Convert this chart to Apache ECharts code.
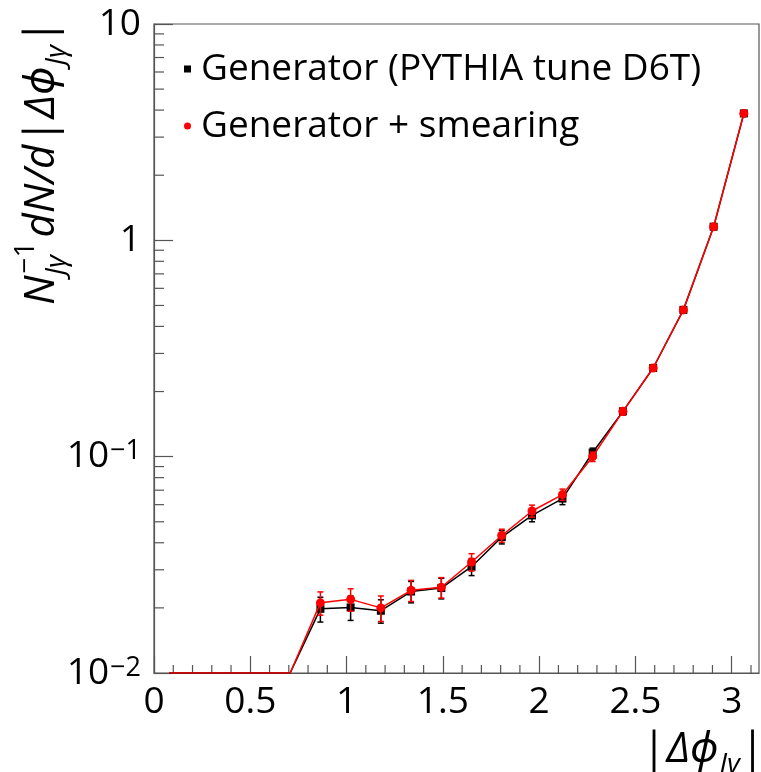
<!DOCTYPE html>
<html><head><meta charset="utf-8">
<script src="https://cdn.jsdelivr.net/npm/echarts@6/dist/echarts.min.js"></script>
<style>html,body{margin:0;padding:0;background:#fff}#c{width:761px;height:772px}</style>
</head><body><div id="c"></div>
<script>
// ---- data ----
const xCenters = [0.079, 0.236, 0.393, 0.550, 0.707, 0.864, 1.021, 1.178, 1.335, 1.492,
                  1.649, 1.806, 1.963, 2.121, 2.278, 2.435, 2.592, 2.749, 2.906, 3.063];
const genY     = [0, 0, 0, 0, 0, 0.0198, 0.0201, 0.0194, 0.0238, 0.0247,
                  0.0310, 0.0425, 0.0535, 0.0640, 0.1045, 0.162, 0.257, 0.477, 1.156, 3.86];
const genErr   = [0, 0, 0, 0, 0, 0.0026, 0.0026, 0.0024, 0.0027, 0.0027,
                  0.0028, 0.0030, 0.0035, 0.0040, 0.0050, 0.006, 0.008, 0.011, 0.017, 0.03];
const smearY   = [0, 0, 0, 0, 0, 0.0211, 0.0219, 0.0200, 0.0241, 0.0249,
                  0.0326, 0.0432, 0.0561, 0.0668, 0.1000, 0.162, 0.257, 0.477, 1.156, 3.86];
const smearErr = [0, 0, 0, 0, 0, 0.0026, 0.0026, 0.0027, 0.0027, 0.0027,
                  0.0030, 0.0030, 0.0036, 0.0040, 0.0050, 0.006, 0.008, 0.011, 0.017, 0.03];
const xMin = 0, xMax = 3.1416, xMajor = 0.5;
const xMinorTicks = [0.1,0.2,0.3,0.4,0.6,0.7,0.8,0.9,1.1,1.2,1.3,1.4,1.6,1.7,1.8,1.9,
                     2.1,2.2,2.3,2.4,2.6,2.7,2.8,2.9,3.1];
const yMin = 0.01, yMax = 10;
const yMinorTicks = [0.02,0.03,0.04,0.05,0.06,0.07,0.08,0.09,
                     0.2,0.3,0.4,0.5,0.6,0.7,0.8,0.9,
                     2,3,4,5,6,7,8,9];
const yTickLabels = {'-2': '10{sup|−2}', '-1': '10{sup|−1}', '0': '1', '1': '10'};
const legendNames = ['Generator (PYTHIA tune D6T)', 'Generator + smearing'];

// ---- chart ----
const FONT = '"Open Sans", "Noto Sans", "DejaVu Sans", sans-serif';
const AXC = '#555';
const chart = echarts.init(document.getElementById('c'), null, {renderer: 'canvas'});

function lineData(ys) {
  return ys.map((v, i) => v > 0 ? [xCenters[i], v] : {value: [xCenters[i], yMin], symbol: 'none'});
}
function errData(ys, es) {
  const out = [];
  ys.forEach((v, i) => { if (v > 0 && es[i] > 0) out.push([xCenters[i], v - es[i], v + es[i]]); });
  return out;
}
function errRender(color) {
  return function (params, api) {
    const lo = api.coord([api.value(0), api.value(1)]);
    const hi = api.coord([api.value(0), api.value(2)]);
    const c = 3;
    const st = {stroke: color, lineWidth: 1.5};
    return {type: 'group', children: [
      {type: 'line', shape: {x1: lo[0], y1: lo[1], x2: hi[0], y2: hi[1]}, style: st},
      {type: 'line', shape: {x1: lo[0]-c, y1: lo[1], x2: lo[0]+c, y2: lo[1]}, style: st},
      {type: 'line', shape: {x1: hi[0]-c, y1: hi[1], x2: hi[0]+c, y2: hi[1]}, style: st}
    ]};
  };
}

// canvas measurement for the math-like titles
const mctx = document.createElement('canvas').getContext('2d');
function fontStr(s, it) { return (it ? 'italic ' : '') + s + 'px ' + FONT; }
function mw(t, s, it) { mctx.font = fontStr(s, it); return mctx.measureText(t).width; }
function buildSegs(segs) {
  const children = [];
  let x = 0;
  let i = 0;
  while (i < segs.length) {
    const g = segs[i];
    let group = [g];
    if (g.stack) { group = [g, segs[i+1]]; i++; }
    let w = 0;
    group.forEach(s => {
      children.push({type: 'text', x: x + (s.dx || 0), y: s.dy - 0.3 * s.s,
        style: {text: s.t, font: fontStr(s.s, s.it), fill: '#000', align: 'left', verticalAlign: 'middle'}});
      w = Math.max(w, mw(s.t, s.s, s.it) + (s.dx || 0));
    });
    x += w + (g.gap || 0);
    i++;
  }
  return {children, width: x};
}
const ySegs = [
  {t: 'N', s: 42, it: true, dy: 0, gap: 2},
  {t: '−1', s: 28, it: false, dy: -21, stack: true, gap: 4},
  {t: 'Jγ', s: 28, it: true, dy: 10, dx: -2},
  {t: 'dN/d', s: 42, it: true, dy: 0, gap: 2},
  {t: '|', s: 42, it: false, dy: 0, gap: 1},
  {t: 'Δϕ', s: 42, it: true, dy: 0, gap: 1},
  {t: 'Jγ', s: 28, it: true, dy: 10, gap: 2},
  {t: '|', s: 42, it: false, dy: 0}
];
const xSegs = [
  {t: '|', s: 42, it: false, dy: 0, gap: 1},
  {t: 'Δϕ', s: 42, it: true, dy: 0, gap: 1},
  {t: 'Jγ', s: 28, it: true, dy: 10, gap: 1},
  {t: '|', s: 42, it: false, dy: 0}
];
const yT = buildSegs(ySegs);
const xT = buildSegs(xSegs);

const option = {
  animation: false,
  backgroundColor: '#fff',
  grid: {left: 154, right: 2, top: 24, bottom: 99, show: true, borderColor: AXC, borderWidth: 1.2, backgroundColor: 'transparent'},
  legend: {
    orient: 'vertical', left: 179, top: 43, itemWidth: 7, itemHeight: 7, itemGap: 15,
    data: [{name: legendNames[0], icon: 'rect'}, {name: legendNames[1], icon: 'circle'}],
    textStyle: {fontFamily: FONT, fontSize: 37, color: '#000', lineHeight: 42, padding: [0, 0, 0, 5]},
    selectedMode: false
  },
  xAxis: {
    type: 'value', min: xMin, max: xMax, interval: xMajor,
    axisLine: {show: true, lineStyle: {color: AXC, width: 1.2}},
    axisTick: {show: true, inside: true, length: 17, lineStyle: {color: AXC, width: 1.2}},
    axisLabel: {fontFamily: FONT, fontSize: 37, color: '#000', margin: 11, showMaxLabel: false,
      formatter: v => (Math.round(v * 10) / 10).toString()},
    splitLine: {show: false}
  },
  yAxis: {
    type: 'log', logBase: 10, min: yMin, max: yMax,
    axisLine: {show: true, lineStyle: {color: AXC, width: 1.2}},
    axisTick: {show: true, inside: true, length: 19, lineStyle: {color: AXC, width: 1.2}},
    axisLabel: {fontFamily: FONT, fontSize: 37, color: '#000', margin: 13,
      formatter: v => yTickLabels[String(Math.round(Math.log10(v)))] || '',
      rich: {sup: {fontFamily: FONT, fontSize: 27, color: '#000', verticalAlign: 'top', padding: [0, 0, 0, 1]}}},
    splitLine: {show: false}
  },
  graphic: [
    {type: 'group', x: 55, y: 305, rotation: Math.PI / 2, children: yT.children},
    {type: 'group', x: 764 - xT.width, y: 763, children: xT.children}
  ],
  series: [
    {
      type: 'custom', name: 'yminor', silent: true, z: 1,
      data: yMinorTicks.map(v => [xMin, v]),
      renderItem: (p, api) => {
        const c = api.coord([api.value(0), api.value(1)]);
        return {type: 'line', shape: {x1: c[0], y1: c[1], x2: c[0] + 10, y2: c[1]}, style: {stroke: AXC, lineWidth: 1.2}};
      }
    },
    {
      type: 'custom', name: 'xminor', silent: true, z: 1,
      data: xMinorTicks.map(v => [v, yMin]),
      renderItem: (p, api) => {
        const c = api.coord([api.value(0), api.value(1)]);
        return {type: 'line', shape: {x1: c[0], y1: c[1], x2: c[0], y2: c[1] - 8}, style: {stroke: AXC, lineWidth: 1.2}};
      }
    },
    {
      type: 'line', name: legendNames[0], data: lineData(genY), z: 2,
      symbol: 'rect', symbolSize: 8, color: '#000',
      lineStyle: {color: '#000', width: 1.5}, itemStyle: {color: '#000'}
    },
    {
      type: 'custom', name: 'genErr', z: 3, data: errData(genY, genErr),
      encode: {x: 0, y: [1, 2]}, renderItem: errRender('#000')
    },
    {
      type: 'line', name: legendNames[1], data: lineData(smearY), z: 4,
      symbol: 'circle', symbolSize: 9, color: '#ff0000',
      lineStyle: {color: '#ff0000', width: 1.5}, itemStyle: {color: '#ff0000'}
    },
    {
      type: 'custom', name: 'smearErr', z: 5, data: errData(smearY, smearErr),
      encode: {x: 0, y: [1, 2]}, renderItem: errRender('#ff0000')
    }
  ]
};
chart.setOption(option);
</script>
</body></html>
